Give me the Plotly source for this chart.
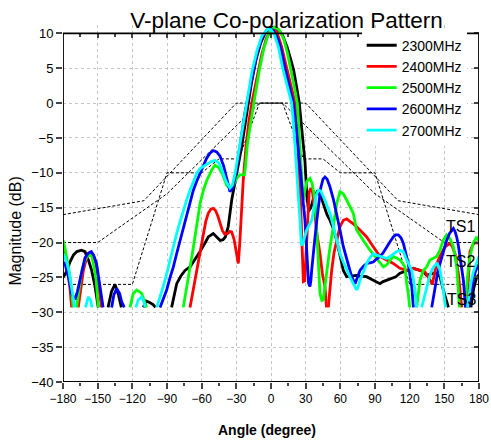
import plotly.graph_objects as go

# measured V-plane patterns, (angle deg, magnitude dB); None = gap where the trace drops below the floor
pts_2300 = [(-180, -25), (-177, -24.2), (-174, -22.8), (-171, -21.8), (-168, -21.3), (-164, -21.1),
            (-161, -21.3), (-158, -22.5), (-155.2, -24), (-152.3, -26.3), (-149.5, -29.3), None,
            (-141, -29.3), (-138, -27), (-135, -26), (-132, -27.5), (-129.5, -29.3), None,
            (-110.5, -29.3), (-108, -28.4), (-105, -28.6), (-102, -28.9), (-100, -29.3), None,
            (-86, -29.3), (-83.5, -27.5), (-81.6, -25.9), (-78, -24.8), (-74.4, -24), (-70.1, -23.5),
            (-66, -22.5), (-61.4, -21.3), (-57.5, -20.2), (-54.3, -19.2), (-50, -18.7), (-47, -19.2),
            (-44, -19.7), (-41.5, -19.6), (-39.5, -19.2), (-37, -17.7), (-34, -13.9), (-29.7, -10.1),
            (-25.4, -6.3), (-21, -1.5), (-17, 2.8), (-13, 6.2), (-9, 8.6), (-5, 10.1), (-1, 10.8),
            (2, 10.9), (6, 10.6), (10, 9.7), (14, 8.0), (17, 6.3), (19.5, 4.8), (22, 2.5), (24.5, 0),
            (26.6, -3.7), (29.4, -8.4), (31, -13.2), (32.5, -15.5), (34.5, -15), (37, -13.5),
            (40, -12.7), (43, -13.3), (46, -14.8), (48.5, -16), (51, -16.8), (54, -18), (56.8, -19.7),
            (59.5, -21.8), (62.6, -24), (65.5, -24.9), (70, -24.8), (74, -24.7), (77, -24.8),
            (82.7, -24.9), (88.5, -25.4), (92, -25.7), (94.3, -25.9), (97, -25.6), (100, -25.4),
            (103, -25.2), (105.8, -25.1), (108, -24.9), (111.6, -24.4), (117.4, -24), (123.1, -23.7),
            (128.9, -24), (131.8, -24.2), (134.7, -24.7), (140.5, -24.4), (143.4, -24.4),
            (146.2, -24.9), (149.1, -26.8), (151.5, -28), (153.5, -29.3), None,
            (173, -29.3), (175.5, -26.5), (178, -25), (180, -24.6)]

pts_2400 = [(-180, -20.5), (-178, -21.8), (-176, -24), (-174, -26.5), (-172.5, -29.3), None,
            (-166.8, -29.3), (-164.5, -26.5), (-162.4, -24), (-160, -22.5), (-158, -21.8),
            (-155.5, -21.5), (-153, -22.2), (-150.9, -23.5), (-149.4, -25.9), (-147.8, -28),
            (-146.5, -29.3), None,
            (-70.1, -29.3), (-67, -26.5), (-64.3, -24), (-61.4, -21.3), (-58.6, -18.7), (-56.5, -17),
            (-54.3, -15.8), (-52, -15.2), (-50, -15.1), (-48, -15.4), (-46, -16.2), (-44, -17.3),
            (-42, -18.3), (-40, -18.8), (-37.5, -18.7), (-35.5, -18.4), (-34, -18.5), (-32, -19.5),
            (-30, -21.5), (-28.3, -23), (-27, -20), (-26, -16.5), (-24, -11), (-21.5, -6),
            (-19, -2.5), (-16, 0.5), (-12, 4), (-8, 7), (-4, 9.3), (0, 10.6), (2, 10.7), (5, 10.2),
            (9, 8.2), (13.6, 5), (17, 2.6), (20.8, 0), (22.5, -3.5), (24, -8), (25.5, -14),
            (26.8, -20), (28, -25.6), (29.2, -25.5), (30.5, -21), (31.5, -16), (33, -12.8),
            (34.5, -12.2), (36, -12.8), (37.5, -15), (39.5, -18.5), (42.4, -21.6), (44.5, -24.5),
            (46.7, -26.3), (48, -29.3), None,
            (49.6, -29.3), (51, -26.5), (52.5, -24), (54.5, -21.5), (56.8, -19.7), (59.7, -17.7),
            (62.6, -16.8), (65.5, -16.6), (68.5, -17), (71.2, -17.3), (77, -18.2), (82.8, -19.2),
            (88.5, -20.6), (94.3, -22), (100, -22.5), (105.8, -23), (111.6, -23.7), (117.4, -24),
            (123.2, -23.7), (128.9, -24), (133.3, -24.2), (137.6, -25.4), (139.5, -26),
            (141.5, -24.5), (143.4, -23), (146.2, -22), (150.6, -20.6), (154.9, -20.1), (157, -20.6),
            (159.2, -21.6), (162.1, -24.4), (164, -27.5), (165, -29.3), None,
            (169.3, -29.3), (170.8, -25), (172.2, -21.3), (174.5, -20.4), (176.5, -20), (180, -20.1)]

pts_2500 = [(-180, -19.7), (-178, -21), (-176, -23), (-174, -24.9), (-172.5, -27), (-171.2, -29.3), None,
            (-168.2, -29.3), (-166, -26.5), (-163.8, -24), (-161.5, -22.8), (-159.5, -22),
            (-156.6, -21.8), (-155, -22), (-153.8, -23), (-151.5, -25), (-150.9, -26.3),
            (-149.4, -29.3), None,
            (-122, -29.3), (-119.2, -27.3), (-116.2, -26.8), (-114, -27), (-111.9, -27.3),
            (-109, -28.7), (-107.6, -29.3), None,
            (-75.9, -29.3), (-73, -26.5), (-70.1, -24), (-68, -21.5), (-65.8, -19.2), (-63.5, -16.8),
            (-61.4, -14.4), (-58.5, -12.5), (-55.6, -11.1), (-51.3, -9.6), (-48.5, -8.9), (-45, -9.3),
            (-42, -10.2), (-38.3, -11.8), (-35, -12.3), (-32, -11.6), (-29.7, -10.8), (-27, -10.3),
            (-23, -10.3), (-22, -9), (-20.5, -6), (-18.5, -3.8), (-16.7, -1.7), (-13.8, 1.1),
            (-10, 4.8), (-6, 8), (-2, 10), (3, 10.9), (7, 10.5), (11, 9.2), (14, 7.3), (17, 5),
            (20, 2.5), (22.8, 0), (24.3, -4.5), (25.7, -9.5), (27, -13.2), (27.8, -13.9), (29, -12.8),
            (31, -11.2), (33.7, -10.8), (35.5, -11.5), (37, -12.8), (38.1, -13.9), (39.5, -18),
            (41, -23.5), (42.4, -27.3), (44, -28.3), (45.3, -28.2), (46.5, -26.5), (48.2, -24),
            (50.5, -21.3), (52.5, -19.2), (55, -16.5), (57, -14.3), (59.7, -12.7), (62.5, -13),
            (65.5, -13.9), (68.5, -14.8), (71.2, -15.8), (74.1, -18.2), (77, -19), (79.9, -19.7),
            (85.7, -21.1), (91.5, -22.3), (97.2, -23.5), (100, -23.2), (103, -22.5), (105.8, -22),
            (108.5, -22.2), (111.6, -22.5), (114, -23), (115.9, -23.5), (117.5, -26), (118.8, -27.3),
            (120, -29.3), None,
            (126.1, -29.3), (127.5, -27), (128.9, -25.4), (131.8, -24), (134.7, -23.5), (137.6, -22.5),
            (140.5, -22.2), (143.4, -22), (146.2, -21.1), (149, -19.7), (152, -18.9), (155, -19.5),
            (157.8, -20.6), (159.5, -22), (160.7, -23.5), (162, -26.5), (163, -29.3), None,
            (167.9, -29.3), (170, -25), (172.2, -22), (175, -20.1), (178, -19.2), (180, -19.8)]

pts_2600 = [(-180, -22.8), (-178, -23.2), (-176.8, -24), (-174.5, -25.5), (-172.5, -27.3), (-169.6, -28.2),
            (-167.5, -27), (-165.3, -25.4), (-163, -23.5), (-161, -22.2), (-158, -21.5),
            (-155.5, -21.3), (-153.5, -21.8), (-151, -23), (-148, -26.3), (-145.3, -29.3), None,
            (-137.9, -29.3), (-136, -27.5), (-133.6, -26.6), (-131, -27.3), (-129.2, -28.5),
            (-127, -29.3), None,
            (-96, -29.3), (-93, -28), (-90.3, -26.8), (-87.5, -25.1), (-84.5, -23.5), (-81.5, -21.5),
            (-78.7, -19.7), (-76, -18), (-73, -16.3), (-70, -14.3), (-67.2, -12.5), (-64.3, -11.2),
            (-61.4, -10.1), (-58.6, -9), (-55.7, -7.9), (-52.8, -7.2), (-50, -6.8), (-47, -7),
            (-44.1, -7.6), (-41, -9), (-38.3, -10.8), (-35.5, -12.7), (-33.5, -12.2), (-31.2, -10.8),
            (-29, -8.5), (-26.8, -6), (-24.5, -3.6), (-22.5, -1.3), (-19.6, 1.1), (-16, 4.2),
            (-12, 7.2), (-8, 9.3), (-4, 10.4), (-1.5, 10.7), (2, 10.4), (6, 9.2), (9, 7.5),
            (12.1, 5), (15.5, 2.5), (19.3, 0), (21.5, -3), (24, -7), (26.5, -11.5), (28, -14.5),
            (29.4, -16.8), (30.5, -20), (31.5, -23.5), (32.5, -25.8), (33.7, -26.3), (34.5, -25.5),
            (35.2, -24), (36.5, -21.5), (38.1, -19.2), (39.5, -17), (41, -14.8), (43, -12.2),
            (45, -10.9), (46.7, -10.6), (48.5, -10.9), (51, -12), (54, -13.8), (56.8, -15.8),
            (59.7, -18.2), (62.6, -20.6), (65.5, -22.5), (69.8, -24.9), (72.7, -25.9), (75, -25),
            (77, -24), (80, -23.4), (82.8, -23), (85.5, -22.9), (88.5, -22.8), (91, -22.4),
            (94.3, -22), (97, -21.5), (100, -20.6), (103, -19.9), (105.8, -19.2), (108, -18.9),
            (110.2, -18.9), (112.5, -19.3), (114.5, -20.1), (116.5, -21.5), (118.8, -23),
            (120.5, -25), (121.8, -26.3), (123.2, -29.3), None,
            (139.1, -29.3), (140.5, -27.8), (142, -26.3), (144, -24.5), (146.3, -23), (149, -21.3),
            (152, -19.7), (154.5, -18.7), (156.4, -18.2), (157.8, -18), (159.2, -18.4),
            (160.7, -19.2), (162.2, -20.5), (163.6, -22), (165, -23.8), (166.5, -25.4),
            (167.5, -27.5), (168.3, -29.3), None,
            (171, -29.3), (173, -27), (175, -25.4), (177, -24.1), (180, -23)]

pts_2700 = [(-180, -21.6), (-178.5, -22), (-176.8, -22.8), (-175, -24), (-173.5, -25.5), (-172, -27),
            (-170.5, -28.5), (-169.8, -29.3), None,
            (-160.5, -29.3), (-158.1, -27.8), (-156, -28.3), (-155, -29.3), None,
            (-117, -29.3), (-114.8, -28.2), (-112, -27.8), (-110, -28.5), (-109, -29.3), None,
            (-98.9, -29.3), (-96, -27.8), (-93.2, -26.3), (-90.3, -24.5), (-87.4, -22.5),
            (-84.5, -20.6), (-81.6, -18.7), (-78.7, -17), (-75.9, -15.4), (-73, -13.9),
            (-70.1, -12.5), (-67.2, -11.2), (-64.3, -10.1), (-61.4, -9.4), (-58, -9), (-55, -8.7),
            (-52, -8.4), (-48.5, -8.2), (-45, -8.6), (-42, -9.8), (-39, -11.2), (-35.5, -12.2),
            (-33.5, -11.8), (-31, -10), (-29, -8), (-27, -6), (-25, -3.8), (-23, -1.5), (-20, 1.5),
            (-16.5, 4.5), (-12, 7.6), (-8, 9.6), (-3, 10.6), (0, 10.5), (3, 9.8), (6.5, 8),
            (10.1, 5), (14, 2.3), (17.9, 0), (19.5, -3), (21, -6.5), (22.5, -10), (23.8, -13.5),
            (25.1, -16.8), (26.3, -20.4), (27.5, -20.2), (29, -19.3), (30.9, -18.2), (33, -17.5),
            (35.2, -16.8), (37, -15.2), (39, -13.3), (41, -12.5), (43, -12.6), (45.3, -13.4),
            (48, -14.5), (51, -15.8), (54, -17.7), (57, -19.7), (59.7, -21.6), (62.6, -22.8),
            (65.5, -24), (68.5, -25), (71.2, -25.9), (74.1, -26.8), (75.5, -26.3), (77, -25.4),
            (80, -24.2), (82.8, -23), (85.5, -22.2), (88.5, -21.6), (91.5, -21.8), (94.3, -22),
            (97, -22.2), (100, -22.3), (103, -22), (105.8, -21.6), (108.5, -21.3), (111.6, -21.1),
            (114.5, -21.3), (117.4, -22.5), (119.5, -23.2), (121.8, -24), (123.2, -25.3),
            (124.6, -26.8), (126, -29.3), None,
            (130.4, -29.3), (132.5, -27.8), (134.7, -26.3), (137, -25), (139.1, -24), (141.2, -23.4),
            (143.4, -23), (145, -23.4), (146.3, -24), (147.8, -25.3), (149.1, -26.8), (151, -29.3), None,
            (170, -29.3), (171.5, -27.2), (173, -25.8), (175, -24.3), (177.5, -23), (180, -22)]

# spec masks
ts1_ang = [-180, -110, -30, 30, 110, 180]
ts1_mag = [-16, -14, 0, 0, -14, -16]
ts2_ang = [-180, -150, -90, -10, 10, 90, 150, 180]
ts2_mag = [-20, -20, -13, 0, 0, -13, -20, -20]
ts3_ang = [-180, -120, -90, -60, -45, -28, -10, 10, 28, 45, 60, 90, 120, 180]
ts3_mag = [-26, -26, -10, -10, -8, -8, 0, 0, -8, -8, -10, -10, -26, -26]

series = [
    ("2300MHz", pts_2300, "#000000"),
    ("2400MHz", pts_2400, "#ff0000"),
    ("2500MHz", pts_2500, "#00ff00"),
    ("2600MHz", pts_2600, "#0000ff"),
    ("2700MHz", pts_2700, "#00ffff"),
]
tick_x = list(range(-180, 181, 30))
tick_y = list(range(-40, 11, 5))

FONT = "Arial, Liberation Sans, sans-serif"
Y_TOP = 11.2  # a little headroom so the main-lobe peaks poke above the frame

fig = go.Figure()

# masks go under the curves
for ang, mag in [(ts1_ang, ts1_mag), (ts2_ang, ts2_mag), (ts3_ang, ts3_mag)]:
    fig.add_trace(go.Scatter(x=ang, y=mag, mode="lines", showlegend=False, hoverinfo="skip",
                             line=dict(color="black", width=1, dash="3px,2px")))

for name, pts, color in series:
    xs = [p[0] if p else None for p in pts]
    ys = [p[1] if p else None for p in pts]
    fig.add_trace(go.Scatter(x=xs, y=ys, mode="lines", name=name,
                             line=dict(color=color, width=2.8), connectgaps=False))

# empty trace so the top/right tick axes get drawn
fig.add_trace(go.Scatter(x=[None], y=[None], xaxis="x2", yaxis="y2", showlegend=False, hoverinfo="skip"))

grid = dict(showgrid=True, gridcolor="#c4c4c4", griddash="dot", gridwidth=1, zeroline=False,
            automargin=False)

fig.update_layout(
    width=491, height=441, autosize=False,
    margin=dict(l=63, r=12, t=25, b=59),
    paper_bgcolor="white", plot_bgcolor="rgba(0,0,0,0)",
    font=dict(family=FONT, color="black"),
    title=dict(text="V-plane Co-polarization Pattern", x=0.5835, xanchor="center",
               y=0.955, yanchor="middle", yref="container", font=dict(size=22.5)),
    xaxis=dict(range=[-180, 180], tickvals=tick_x, ticks="outside", ticklen=6, tickwidth=1.5,
               tickfont=dict(size=12), showline=False,
               minor=dict(dtick=15, ticks="outside", ticklen=3, tickwidth=1.5, showgrid=False), **grid),
    yaxis=dict(range=[-40, Y_TOP], tickvals=tick_y, ticks="outside", ticklen=6, tickwidth=1.5,
               tickfont=dict(size=13), showline=False, **grid),
    xaxis2=dict(range=[-180, 180], overlaying="x", anchor="free", position=50 / (Y_TOP + 40),
                side="top", tickvals=tick_x, ticks="inside", ticklen=4, tickwidth=1.5,
                showticklabels=False, showgrid=False, zeroline=False, showline=False, automargin=False,
                minor=dict(dtick=15, ticks="inside", ticklen=3, tickwidth=1.5)),
    yaxis2=dict(range=[-40, Y_TOP], overlaying="y", anchor="free", position=1, side="right",
                tickvals=tick_y, ticks="inside", ticklen=5, tickwidth=1.5, automargin=False,
                showticklabels=False, showgrid=False, zeroline=False, showline=False),
    legend=dict(x=0.718, y=0.987, xanchor="left", yanchor="top", bgcolor="white",
                font=dict(size=14), tracegroupgap=0, itemwidth=30),
    showlegend=True,
)

# plot frame (-180..180, -40..10)
fig.add_shape(type="rect", xref="x", yref="y", x0=-180, x1=180, y0=-40, y1=10,
              line=dict(color="black", width=1.8), layer="above")

fig.add_annotation(text="Magnitude (dB)", xref="paper", yref="paper", x=-0.113, y=0.424,
                   xanchor="center", yanchor="middle", textangle=-90, showarrow=False,
                   font=dict(size=16))
fig.add_annotation(text="<b>Angle (degree)</b>", xref="paper", yref="paper", x=0.49, y=-0.134,
                   xanchor="center", yanchor="middle", showarrow=False, font=dict(size=14))
for label, ax_, ay_ in [("TS1", 164, -17.7), ("TS2", 164.4, -22.7), ("TS3", 165, -28.1)]:
    fig.add_annotation(text=label, x=ax_, y=ay_, showarrow=False, font=dict(size=16))

# drop the default page margin so the figure sits at the window's top-left corner
fig.write_html("out.html", config={"displayModeBar": False},
               post_script="document.body.style.margin='0';")
